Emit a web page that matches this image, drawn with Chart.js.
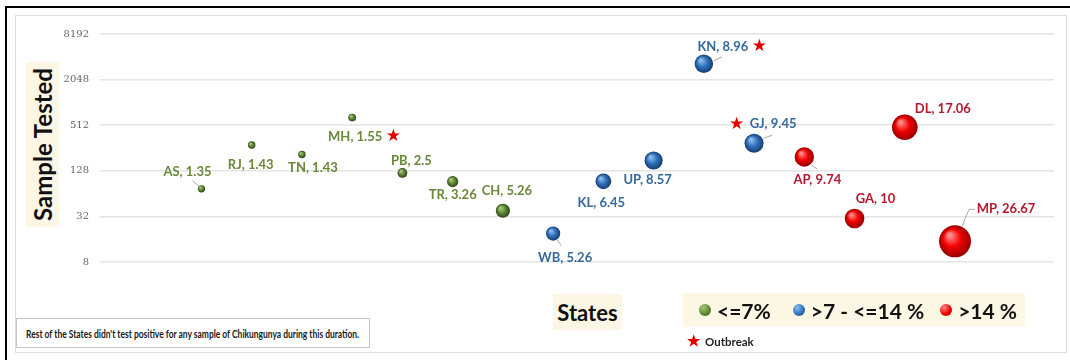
<!DOCTYPE html>
<html>
<head>
<meta charset="utf-8">
<script src="https://cdn.jsdelivr.net/npm/chart.js@4.4.0/dist/chart.umd.min.js"></script>
<style>
  body { margin:0; width:1070px; height:360px; background:#fff; position:relative; overflow:hidden; font-family:Lato, "Open Sans", sans-serif; }
  .edge { position:absolute; left:5px; top:6px; right:0; bottom:0; border-top:2.5px solid #000; border-left:2.5px solid #000; }
  .frame { position:absolute; left:15px; top:15px; width:1052px; height:338px; border:1.5px solid #dedede; box-sizing:border-box; }
  #chartBox { position:absolute; left:0; top:0; width:1070px; height:360px; }
  .cream { position:absolute; background:#fcf7e4; color:#111; font-weight:700; display:flex; align-items:center; justify-content:center; white-space:nowrap; z-index:2; }
  .ytitle { left:26px; top:62px; width:33px; height:165px; }
  .ytitle span { writing-mode:vertical-rl; transform:rotate(180deg); font-size:24px; }
  .xtitle { left:553px; top:294px; width:69px; height:36px; font-size:22px; }
  .legend { left:683px; top:293px; width:342px; height:34px; font-size:21px; justify-content:flex-start; }
  .ball { display:inline-block; width:12px; height:12px; border-radius:50%; margin:0 6px 0 0; }
  .b0 { background:radial-gradient(circle at 35% 30%, #a6c779, #5f8a32 55%, #2f4d14); margin-left:16px; }
  .b1 { background:radial-gradient(circle at 35% 30%, #8dbbe9, #2f74c0 55%, #173f73); margin-left:22px; }
  .b2 { background:radial-gradient(circle at 35% 30%, #ff8a8a, #f00000 55%, #9a0000); margin-left:16px; }
  .outbreak { position:absolute; left:687px; top:331px; font-size:11.5px; font-weight:700; color:#222; white-space:nowrap; z-index:2; }
  .outbreak b { color:#e00000; font-size:15px; margin-right:5px; }
  .note { position:absolute; left:16px; top:318px; width:354px; height:30px; border:1px solid #c8c8c8; box-sizing:border-box; background:#fff; font-size:11.5px; font-weight:700; color:#1a1a1a; display:flex; align-items:center; justify-content:center; white-space:nowrap; z-index:2; }
  .note span { display:inline-block; transform-origin:center; }
</style>
</head>
<body>
<div class="edge"></div>
<div class="frame"></div>
<div id="chartBox"><canvas id="bubbles" width="1070" height="360"></canvas></div>
<div class="cream ytitle"><span>Sample Tested</span></div>
<div class="cream xtitle">States</div>
<div class="cream legend">
  <span class="ball b0"></span>&lt;=7%
  <span class="ball b1"></span>&gt;7 - &lt;=14 %
  <span class="ball b2"></span>&gt;14 %
</div>
<div class="outbreak"><b>★</b>Outbreak</div>
<div class="note"><span id="noteText">Rest of the States didn't test positive for any sample of Chikungunya during this duration.</span></div>

<script>
// --- data ---
const states = ['AS', 'RJ', 'TN', 'MH', 'PB', 'TR', 'CH', 'WB', 'KL', 'UP', 'KN', 'GJ', 'AP', 'GA', 'DL', 'MP'];
const positivity = [1.35, 1.43, 1.43, 1.55, 2.5, 3.26, 5.26, 5.26, 6.45, 8.57, 8.96, 9.45, 9.74, 10, 17.06, 26.67];
const samples = [74, 280, 210, 645, 120, 92, 38, 19, 93, 175, 3314, 296, 195, 30, 481, 15];
// colour band each bubble carries in the picture: 0 green, 1 blue, 2 red
const band = [0, 0, 0, 0, 0, 0, 0, 1, 1, 1, 1, 1, 2, 2, 2, 2];
const outbreak = ['MH', 'KN', 'GJ'];
const yTicks = [8, 32, 128, 512, 2048, 8192];

// --- look ---
const shades = [
    ['#a9c97c', '#62893a', '#2c4612'],
    ['#8fbdea', '#2f72bd', '#163c6e'],
    ['#ff8c8c', '#f20000', '#960000']
];
const textColors = ['#68883a', '#34699c', '#b3182c'];
const bubbleR = i => 3.1 * Math.sqrt(positivity[i]);

// label offset from bubble centre (px), star side, leader line
const labelPos = {
    AS: [-14, -17], RJ: [-1, 20], TN: [11, 13], MH: [3, 19], PB: [9, -12], TR: [0, 13],
    CH: [4, -20], WB: [12, 24], KL: [-2, 22], UP: [-6, 19], KN: [19, -17], GJ: [19, -19],
    AP: [13, 23], GA: [21, -20], DL: [38, -18], MP: [51, -33]
};
const starSide = { MH: 'right', KN: 'right', GJ: 'left' };
const leaders = {
    AS: [[-9, -8], [-2, -2]], WB: [[4, 6], [8, 12]], KN: [[10, -3], [18, -7]],
    GJ: [[9, -5], [18, -8]], AP: [[7, 8], [13, 12]],
    MP: [[7, -15], [14, -32], [20, -32]]
};

function sphere(c) {
    const i = c.dataIndex;
    const chart = c.chart;
    if (i === undefined) return shades[0][1];
    const col = shades[band[i]];
    const x = chart.scales.x ? chart.scales.x.getPixelForValue(i + 1) : NaN;
    const y = chart.scales.y ? chart.scales.y.getPixelForValue(samples[i]) : NaN;
    if (!isFinite(x) || !isFinite(y)) return col[1];
    const r = bubbleR(i);
    const g = chart.ctx.createRadialGradient(x - r * 0.35, y - r * 0.4, r * 0.1, x, y, r);
    g.addColorStop(0, col[0]);
    g.addColorStop(0.5, col[1]);
    g.addColorStop(1, col[2]);
    return g;
}

const labelPlugin = {
    id: 'stateLabels',
    afterDatasetsDraw(chart) {
        const ctx = chart.ctx;
        const pts = chart.getDatasetMeta(0).data;
        ctx.save();
        ctx.font = 'bold 13px Lato, "Open Sans", sans-serif';
        ctx.textAlign = 'center';
        ctx.textBaseline = 'middle';
        pts.forEach((p, i) => {
            const s = states[i];
            const off = labelPos[s];
            const lx = p.x + off[0], ly = p.y + off[1];
            if (leaders[s]) {
                ctx.strokeStyle = '#a8a8a8';
                ctx.lineWidth = 1;
                ctx.beginPath();
                leaders[s].forEach((q, k) => k ? ctx.lineTo(p.x + q[0], p.y + q[1]) : ctx.moveTo(p.x + q[0], p.y + q[1]));
                ctx.stroke();
            }
            const txt = s + ', ' + positivity[i];
            ctx.fillStyle = textColors[band[i]];
            ctx.fillText(txt, lx, ly);
            if (outbreak.includes(s)) {
                const w = ctx.measureText(txt).width;
                ctx.save();
                ctx.font = '17px "DejaVu Sans", sans-serif';
                ctx.fillStyle = '#e00000';
                const sx = starSide[s] === 'left' ? lx - w / 2 - 13 : lx + w / 2 + 11;
                ctx.fillText('★', sx, ly);
                ctx.restore();
            }
        });
        ctx.restore();
    }
};

new Chart(document.getElementById('bubbles'), {
    type: 'bubble',
    data: {
        datasets: [{
            data: states.map((s, i) => ({ x: i + 1, y: samples[i], r: bubbleR(i) })),
            backgroundColor: sphere,
            borderWidth: 0
        }]
    },
    options: {
        responsive: false,
        animation: false,
        layout: { padding: { left: 0, right: 13, top: 34, bottom: 98 } },
        plugins: { legend: { display: false }, tooltip: { enabled: false } },
        scales: {
            x: { type: 'linear', min: -1.02, max: 17.97, display: false },
            y: {
                type: 'logarithmic', min: 8, max: 8192,
                afterBuildTicks: s => { s.ticks = yTicks.map(v => ({ value: v })); },
                afterFit: s => { s.width = 100; },
                ticks: { font: { family: '"DejaVu Serif", serif', size: 10 }, color: '#666', padding: 11, callback: v => v },
                grid: { color: '#e4e4e4', lineWidth: 1.5, drawTicks: false },
                border: { display: false }
            }
        }
    },
    plugins: [labelPlugin]
});

// squeeze the footnote to the width it has in the picture
const note = document.getElementById('noteText');
note.style.transform = 'scaleX(' + (333 / note.offsetWidth) + ')';
</script>
</body>
</html>
